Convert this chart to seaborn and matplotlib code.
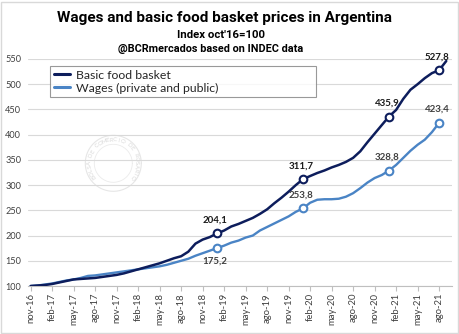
import numpy as np
import pandas as pd
import matplotlib
matplotlib.use("Agg")
import matplotlib.pyplot as plt
import seaborn as sns

# ---------------- data ----------------
tick_labels = ["nov-16", "feb-17", "may-17", "ago-17", "nov-17", "feb-18", "may-18",
               "ago-18", "nov-18", "feb-19", "may-19", "ago-19", "nov-19", "feb-20",
               "may-20", "ago-20", "nov-20", "feb-21", "may-21", "ago-21"]

food = [100, 101, 102, 104, 107, 110, 113, 114, 115, 116, 118, 120,
        122, 125, 129, 133, 137, 141, 145, 150, 155, 159, 168, 184,
        192, 197, 204.1, 210, 218, 223, 229, 235, 243, 252, 264, 275,
        287, 300, 311.7, 318, 324, 329, 335, 340, 346, 354, 367, 385,
        402, 419, 435.9, 449, 471, 489, 500, 512, 522, 527.8, 546]

wages = [100, 101, 103, 105, 108, 111, 113, 116, 120, 121, 123, 125,
         127, 129, 131, 133, 135, 137, 139, 142, 146, 150, 154, 160,
         165, 170, 175.2, 180, 186, 190, 196, 200, 210, 217, 224, 231,
         238, 247, 253.8, 265, 271, 272, 272, 273, 277, 284, 294, 305,
         314, 320, 328.8, 340, 354, 368, 380, 390, 405, 423.4]

marker_idx = [26, 38, 50, 57]

food_name = "Basic food basket"
wages_name = "Wages (private and public)"

FOOD_C = "#0d1d5c"
WAGE_C = "#4a84c5"

# ---------------- figure ----------------
sns.set_theme(style="white")
plt.rcParams["font.family"] = ["Lato", "DejaVu Sans"]

W, H = 460, 334
fig = plt.figure(figsize=(W / 100, H / 100), dpi=100)

def px(x0, y0, x1, y1):
    return [x0 / W, 1 - y1 / H, (x1 - x0) / W, (y1 - y0) / H]

# watermark seal (behind)
wax = fig.add_axes(px(113.3 - 30, 163.3 - 30, 113.3 + 30, 163.3 + 30), zorder=0)
wax.set_xlim(-30, 30)
wax.set_ylim(-30, 30)
wax.set_aspect("equal")
wax.axis("off")
th = np.linspace(0, 2 * np.pi, 200)
wax.plot(28 * np.cos(th), 28 * np.sin(th), color="#e6e6e6", lw=0.8)
wax.plot(19 * np.cos(th), 19 * np.sin(th), color="#ebebeb", lw=0.6)
seal_txt = "BOLSA DE COMERCIO DE ROSARIO"
angs = np.linspace(215, -35, len(seal_txt))
for ch, a in zip(seal_txt, angs):
    r = np.deg2rad(a)
    wax.text(23.5 * np.cos(r), 23.5 * np.sin(r), ch, rotation=a - 90,
             ha="center", va="center", fontsize=4.3, color="#d9d9d9")

ax = fig.add_axes(px(28.5, 59, 452, 286), zorder=1)
ax.patch.set_alpha(0)

df_food = pd.DataFrame({"x": np.arange(len(food)), "v": food})
df_wage = pd.DataFrame({"x": np.arange(len(wages)), "v": wages})

sns.lineplot(data=df_food, x="x", y="v", ax=ax, color=FOOD_C, lw=1.8,
             label=food_name, zorder=4)
sns.lineplot(data=df_wage, x="x", y="v", ax=ax, color=WAGE_C, lw=1.7,
             label=wages_name, zorder=3)

ax.plot(marker_idx, [food[i] for i in marker_idx], ls="none", marker="o",
        ms=5.5, mfc="white", mec=FOOD_C, mew=1.5, zorder=5)
ax.plot(marker_idx, [wages[i] for i in marker_idx], ls="none", marker="o",
        ms=5.5, mfc="white", mec=WAGE_C, mew=1.5, zorder=5)

def fmt(v):
    return f"{v:.1f}".replace(".", ",")

for i in marker_idx:
    ax.annotate(fmt(food[i]), (i, food[i]), xytext=(-1.5, 6.5), textcoords="offset points",
                ha="center", va="bottom", fontsize=7, fontweight="bold", color="#1a1a1a",
                zorder=6)
for k, i in enumerate(marker_idx):
    if k == 0:
        xy, va = (-1.5, -6.5), "top"
    else:
        xy, va = (-1.5, 6.5), "bottom"
    ax.annotate(fmt(wages[i]), (i, wages[i]), xytext=xy, textcoords="offset points",
                ha="center", va=va, fontsize=7, fontweight="bold", color="#404040",
                zorder=6)

ax.set_xlim(-0.3, 58.8)
ax.set_ylim(100, 550)
ax.set_yticks(np.arange(100, 551, 50))
ax.set_xticks(np.arange(0, 3 * len(tick_labels), 3))
ax.set_xticklabels(tick_labels, rotation=90)
ax.set_xlabel("")
ax.set_ylabel("")
ax.grid(axis="y", color="#d9d9d9", lw=0.8)
ax.grid(axis="x", visible=False)
for s in ["left", "right", "top"]:
    ax.spines[s].set_visible(False)
ax.spines["bottom"].set_color("#bfbfbf")
ax.spines["bottom"].set_linewidth(0.8)
ax.tick_params(axis="x", which="major", bottom=True, length=3.5, width=0.8,
               color="#bfbfbf", pad=1.5, labelsize=6.8, labelcolor="#404040")
ax.tick_params(axis="y", left=False, length=0, pad=5.3, labelsize=6.6,
               labelcolor="#404040")

leg = ax.legend(loc="upper left", bbox_to_anchor=(0.0508, 0.815, 0.627, 0.154),
                mode="expand", frameon=True, fancybox=False, fontsize=8.8,
                handlelength=1.3, handletextpad=0.55, borderpad=0.3,
                labelspacing=0.15, borderaxespad=0)
leg.get_frame().set_edgecolor("#808080")
leg.get_frame().set_linewidth(0.8)
for t in leg.get_texts():
    t.set_color("#262626")
for h in leg.get_lines():
    h.set_linewidth(2.2)

tfam = ["Roboto", "DejaVu Sans"]
fig.text(224.7 / W, 1 - 21.7 / H, "Wages and basic food basket prices in Argentina",
         ha="center", va="baseline", fontsize=11, fontweight="bold", family=tfam,
         color="black")
fig.text(220.7 / W, 1 - 37.7 / H, "Index oct'16=100", ha="center", va="baseline",
         fontsize=8.2, fontweight="bold", family=tfam, color="black")
fig.text(211 / W, 1 - 51.7 / H, "@BCRmercados based on INDEC data", ha="center",
         va="baseline", fontsize=7.8, fontweight="bold", family=tfam, color="black")

fig.patches.append(plt.Rectangle((1 / W, 1 / H), (W - 3) / W, (H - 3) / H,
                                 transform=fig.transFigure, fill=False,
                                 edgecolor="#d9d9d9", lw=1))

fig.savefig("out.png", dpi=100)
